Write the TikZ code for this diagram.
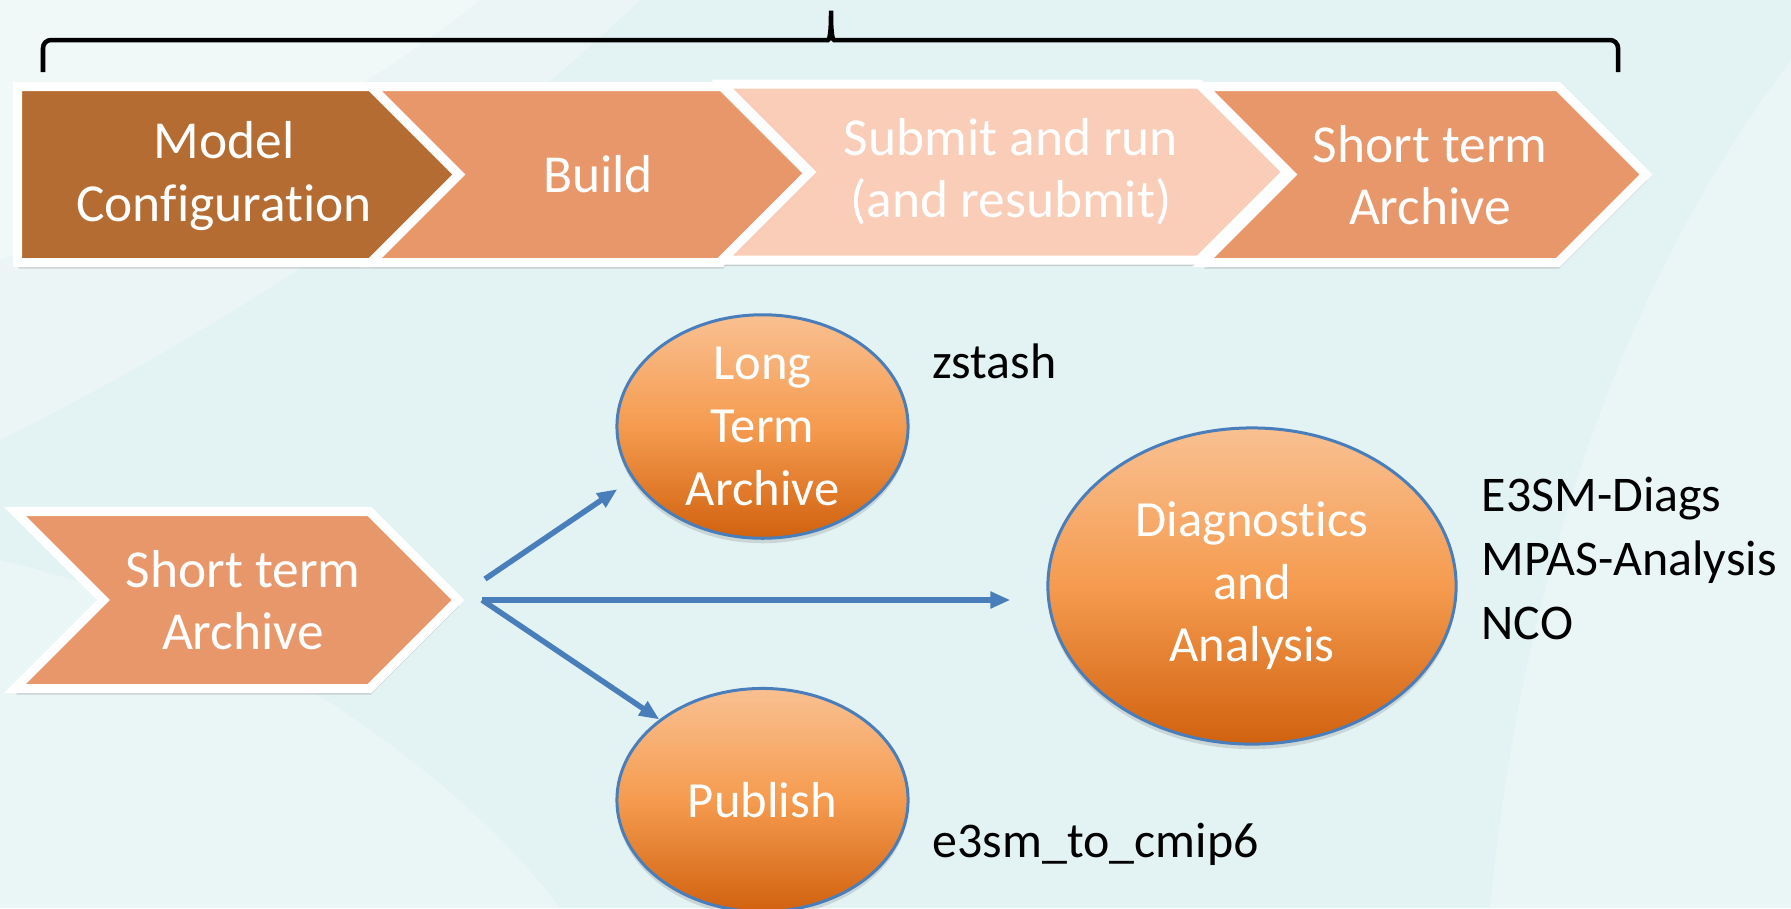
\documentclass[tikz,border=0pt]{standalone}
\usepackage{fontspec}
\setmainfont{Carlito}[Ligatures=NoCommon]
\usepackage{tikz}
\usetikzlibrary{arrows.meta,positioning,shapes.geometric,shadows}
\usepackage{xcolor}
\definecolor{cfgbrown}{HTML}{B46C32}
\definecolor{stepsalmon}{HTML}{E8976A}
\definecolor{steppeach}{HTML}{F9CDB8}
\definecolor{ovtop}{HTML}{F9C091}
\definecolor{ovmid}{HTML}{F59B4F}
\definecolor{ovbot}{HTML}{D1620F}
\definecolor{edgeblue}{HTML}{4A7EBB}
\definecolor{bgcyan}{HTML}{E3F2F3}

\begin{document}
\begin{tikzpicture}[x=0.01cm,y=-0.01cm,
   chev/.style={draw=white,line width=0.09cm,line join=miter,
     drop shadow={shadow xshift=0.01cm,shadow yshift=-0.06cm,opacity=0.3}},
   stxt/.style={text=white,align=center,inner sep=0pt,font=\fontsize{15.2pt}{17.7pt}\selectfont},
   ov/.style={ellipse,draw=edgeblue,line width=0.03cm,top color=ovtop,bottom color=ovbot,
     middle color=ovmid,inner sep=0pt,text=white,align=center,font=\fontsize{14.4pt}{17.8pt}\selectfont,
     drop shadow={shadow xshift=0cm,shadow yshift=-0.05cm,opacity=0.25}},
   note/.style={text=black,inner sep=0pt,align=left,font=\fontsize{14.2pt}{18.2pt}\selectfont},
   flow/.style={draw=edgeblue,line width=0.055cm,-{Triangle[length=0.2cm,width=0.16cm]}}]
  \useasboundingbox (0,0) rectangle (1791,908);
  % background
  \fill[bgcyan] (0,0) rectangle (1791,908);
  \fill[white,opacity=0.3] (0,0) -- (640,0) .. controls (430,200) and (200,340) .. (0,440) -- cycle;
  \fill[white,opacity=0.3] (0,0) -- (480,0) .. controls (330,120) and (150,200) .. (0,260) -- cycle;
  \fill[white,opacity=0.25] (0,560) .. controls (220,610) and (450,760) .. (560,908) -- (0,908) -- cycle;
  \fill[white,opacity=0.25] (1791,60) .. controls (1610,300) and (1520,600) .. (1490,908) -- (1791,908) -- cycle;
  % brace
  \draw[line width=0.045cm,rounded corners=0.08cm] (43,72) -- (43,40) -- (820,40)
    .. controls (829,40) and (831,36) .. (831,6) .. controls (831,36) and (833,40) .. (842,40)
    -- (1618,40) -- (1618,72);
  % process chevrons
  \draw[chev,fill=cfgbrown] (17.5,86.5) -- (371,86.5) -- (459,174.5) -- (371,262.5) -- (17.5,262.5) -- cycle;
  \draw[chev,fill=stepsalmon] (371,86.5) -- (722,86.5) -- (810,174.5) -- (722,262.5) -- (371,262.5) -- (459,174.5) -- cycle;
  \draw[chev,fill=steppeach] (722,84) -- (1199,84) -- (1287,172) -- (1199,260) -- (722,260) -- (810,172) -- cycle;
  \draw[chev,fill=stepsalmon] (1203,86.5) -- (1558,86.5) -- (1646,174.5) -- (1558,262.5) -- (1203,262.5) -- (1291,174.5) -- cycle;
  \node[stxt] (cfg) at (224,176) {Model\\Configuration};
  \node[stxt] (bld) at (598,174.5) {Build};
  \node[stxt] (run) at (1011,172) {Submit and run\\(and resubmit)};
  \node[stxt] (sta) at (1430,175) {Short term\\Archive};
  % archive step
  \draw[chev,fill=stepsalmon] (15,511.5) -- (369.5,511.5) -- (458,600) -- (369.5,688.5) -- (15,688.5) -- (103.5,600) -- cycle;
  \node[stxt] (stb) at (243,600) {Short term\\Archive};
  \node[ov,minimum width=2.91cm,minimum height=2.23cm] (lta) at (762.5,426.5) {Long\\Term\\Archive};
  \node[ov,minimum width=2.91cm,minimum height=2.23cm] (pub) at (762.5,800) {Publish};
  \node[ov,minimum width=4.08cm,minimum height=3.16cm] (dia) at (1252,586) {Diagnostics\\and\\Analysis};
  \coordinate (forkup) at (485,579);
  \coordinate (fork) at (482,600);
  \draw[flow,shorten >=0.18cm] (forkup) -- (lta.202);
  \draw[flow,shorten >=0.36cm] (fork) -- (fork -| dia.west);
  \draw[flow] (fork) -- (pub.142);
  \node[note,anchor=base west] (zst) at (932,378) {zstash};
  \node[note,anchor=base west] (cmip) at (932,857) {e3sm\_to\_cmip6};
  \node[note,anchor=north west] (tools) at (1481,476) {E3SM-Diags\\MPAS-Analysis\\NCO};
\end{tikzpicture}
\end{document}
